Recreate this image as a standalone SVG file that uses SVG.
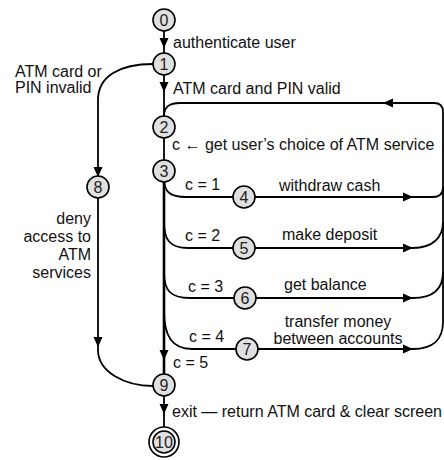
<svg xmlns="http://www.w3.org/2000/svg" xmlns:xlink="http://www.w3.org/1999/xlink" width="444" height="460" viewBox="0 0 444 460">
<style>
.n{fill:#e0e0e0;stroke:#000;stroke-width:1.6}
.nt{font-family:"Liberation Sans",Arial,sans-serif;font-size:16px;text-anchor:middle;fill:#222}
.l{font-family:"Liberation Sans",Arial,sans-serif;font-size:16px;fill:#111}
.c{fill:none;stroke:#000;stroke-width:1.8}
.t{fill:none;stroke:#000;stroke-width:2.6}
.ah{fill:#000}
</style>
<defs>
<path id="ah" d="M0,0 L-10,-4.5 L-10,4.5 Z"/>
</defs>
<g id="connectors">
<path class="c" d="M164,31 L164,53"/>
<path class="c" d="M164,75 L164,116"/>
<path class="c" d="M164,138 L164,160"/>
<path class="t" d="M164,182 L164,374"/>
<path class="c" d="M164,396 L164,427"/>
<path class="c" d="M153,64 C120,64 98,76 98,100 L98,176"/>
<path class="c" d="M98,198 L98,350 C98,372 125,386 153,386"/>
<path class="c" d="M164,178 C164,192 170,197 186,197 L233,197"/>
<path class="c" d="M164,222 C164,240 170,248 188,248 L233,248"/>
<path class="c" d="M164,272 C164,290 170,298 190,298 L234,298"/>
<path class="c" d="M164,310 C164,336 172,349 192,349 L236,349"/>
<path class="c" d="M255,197 L433,197 Q443,197 443,187"/>
<path class="c" d="M443,322 L443,112 Q443,103 434,103 L180,103 C170,103 164,106 164,116"/>
<path class="c" d="M255,248 L413,248 C432,248 443,238 443,222"/>
<path class="c" d="M256,298 L413,298 C432,298 443,290 443,272"/>
<path class="c" d="M258,349 L413,349 C432,349 443,340 443,322"/>
<use xlink:href="#ah" class="ah" transform="translate(164,48) rotate(90)"/>
<use xlink:href="#ah" class="ah" transform="translate(164,92) rotate(90)"/>
<use xlink:href="#ah" class="ah" transform="translate(383,103) rotate(180)"/>
<use xlink:href="#ah" class="ah" transform="translate(413,197)"/>
<use xlink:href="#ah" class="ah" transform="translate(413,248)"/>
<use xlink:href="#ah" class="ah" transform="translate(413,298)"/>
<use xlink:href="#ah" class="ah" transform="translate(413,349)"/>
<use xlink:href="#ah" class="ah" transform="translate(98,177) rotate(90)"/>
<use xlink:href="#ah" class="ah" transform="translate(98,347) rotate(90)"/>
<use xlink:href="#ah" class="ah" transform="translate(164,360) rotate(90)"/>
<use xlink:href="#ah" class="ah" transform="translate(164,414) rotate(90)"/>
</g>
<g id="labels">
<text class="l" x="173" y="48">authenticate user</text>
<text class="l" x="15" y="77">ATM card or</text>
<text class="l" x="15" y="93">PIN invalid</text>
<text class="l" x="173" y="94">ATM card and PIN valid</text>
<text class="l" x="172" y="150">c ← get user’s choice of ATM service</text>
<text class="l" x="185" y="190">c = 1</text>
<text class="l" x="279" y="191">withdraw cash</text>
<text class="l" x="185" y="241">c = 2</text>
<text class="l" x="282" y="240">make deposit</text>
<text class="l" x="188" y="292">c = 3</text>
<text class="l" x="284" y="290">get balance</text>
<text class="l" x="189" y="342">c = 4</text>
<text class="l" x="338" y="327" text-anchor="middle">transfer money</text>
<text class="l" x="338" y="344" text-anchor="middle">between accounts</text>
<text class="l" x="173" y="368">c = 5</text>
<text class="l" x="172" y="417">exit — return ATM card &amp; clear screen</text>
<text class="l" x="91" y="224" text-anchor="end">deny</text>
<text class="l" x="91" y="242" text-anchor="end">access to</text>
<text class="l" x="91" y="260" text-anchor="end">ATM</text>
<text class="l" x="91" y="278" text-anchor="end">services</text>
</g>
<g id="node0"><circle class="n" cx="164" cy="20" r="11"/><text class="nt" x="164" y="26">0</text></g>
<g id="node1"><circle class="n" cx="164" cy="64" r="11"/><text class="nt" x="164" y="70">1</text></g>
<g id="node2"><circle class="n" cx="164" cy="127" r="11"/><text class="nt" x="164" y="133">2</text></g>
<g id="node3"><circle class="n" cx="164" cy="171" r="11"/><text class="nt" x="164" y="177">3</text></g>
<g id="node4"><circle class="n" cx="244" cy="197" r="11"/><text class="nt" x="244" y="203">4</text></g>
<g id="node5"><circle class="n" cx="244" cy="248" r="11"/><text class="nt" x="244" y="254">5</text></g>
<g id="node6"><circle class="n" cx="245" cy="298" r="11"/><text class="nt" x="245" y="304">6</text></g>
<g id="node7"><circle class="n" cx="247" cy="349" r="11"/><text class="nt" x="247" y="355">7</text></g>
<g id="node8"><circle class="n" cx="98" cy="187" r="11"/><text class="nt" x="98" y="193">8</text></g>
<g id="node9"><circle class="n" cx="164" cy="385" r="11"/><text class="nt" x="164" y="391">9</text></g>
<g id="node10"><circle cx="164" cy="442" r="15" fill="#fff" stroke="#000" stroke-width="1.6"/><circle class="n" cx="164" cy="442" r="11"/><text class="nt" x="164" y="448">10</text></g>
</svg>
